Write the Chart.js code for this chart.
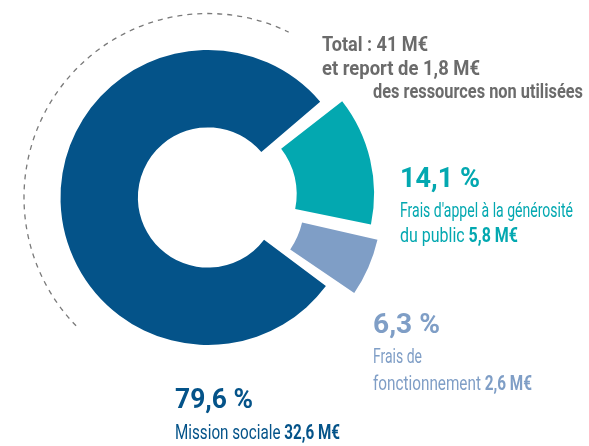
<!DOCTYPE html>
<html lang="fr">
<head>
<meta charset="utf-8">
<title>Emplois des ressources</title>
<script src="https://cdn.jsdelivr.net/npm/chart.js@4.4.0/dist/chart.umd.min.js"></script>
<style>
  html, body { margin: 0; padding: 0; background: #ffffff; }
  #zone { width: 589px; height: 446px; }
</style>
</head>
<body>
<div id="zone"><canvas id="grafico" width="589" height="446"></canvas></div>
<script>
// donnees
const categories = ["Frais d'appel à la générosité du public", "Frais de fonctionnement", "Mission sociale"];
const pourcentages = [14.1, 6.3, 79.6];
const montants = [5.8, 2.6, 32.6];
const total = 41;
const report = 1.8;

const couleurs = ["#03a8b0", "#7f9ec6", "#045389"];
const gris = "#6b6b6b";

function fr(v) {
  return String(v).replace(".", ",");
}

// lignes de texte : runs [texte, gras], position, largeur visee, taille, couleur
const textes = [
  { runs: [["Total : " + total + " M€", true]], x: 322, y: 51, w: 106, size: 21, color: gris },
  { runs: [["et report de " + fr(report) + " M€", true]], x: 322, y: 75, w: 158, size: 21, color: gris },
  { runs: [["des ressources non utilisées", true]], x: 373, y: 98, w: 210, size: 21, color: gris },

  { runs: [[fr(pourcentages[0]) + " %", true]], x: 400, y: 187, w: 80, size: 27, color: couleurs[0] },
  { runs: [["Frais d'appel à la générosité", false]], x: 400, y: 217, w: 173, size: 20, color: couleurs[0] },
  { runs: [["du public ", false], [fr(montants[0]) + " M€", true]], x: 400, y: 242, w: 118, size: 20, color: couleurs[0] },

  { runs: [[fr(pourcentages[1]) + " %", true]], x: 373, y: 333, w: 67, size: 27, color: couleurs[1] },
  { runs: [["Frais de", false]], x: 373, y: 363, w: 49, size: 20, color: couleurs[1] },
  { runs: [["fonctionnement ", false], [fr(montants[1]) + " M€", true]], x: 373, y: 390, w: 159, size: 20, color: couleurs[1] },

  { runs: [[fr(pourcentages[2]) + " %", true]], x: 175, y: 408, w: 78, size: 27, color: couleurs[2] },
  { runs: [["Mission sociale ", false], [fr(montants[2]) + " M€", true]], x: 175, y: 439, w: 165, size: 20, color: couleurs[2] }
];

function police(size, gras) {
  return (gras ? "bold " : "") + size + "px Roboto, 'Liberation Sans', sans-serif";
}

const decor = {
  id: "decor",
  afterDraw(chart) {
    const ctx = chart.ctx;
    const arc = chart.getDatasetMeta(0).data[2];
    const cx = arc.x;
    const cy = arc.y;
    const r = arc.outerRadius + 38;

    // arc pointille
    ctx.save();
    ctx.strokeStyle = "#7a7a7a";
    ctx.lineWidth = 1.3;
    ctx.setLineDash([5, 5]);
    ctx.beginPath();
    ctx.arc(cx, cy, r, 135.8 * Math.PI / 180, 296 * Math.PI / 180);
    ctx.stroke();
    ctx.restore();

    // textes
    textes.forEach((ligne) => {
      ctx.save();
      let largeur = 0;
      ligne.runs.forEach((run) => {
        ctx.font = police(ligne.size, run[1]);
        largeur += ctx.measureText(run[0]).width;
      });
      const sx = ligne.w / largeur;
      ctx.translate(ligne.x, ligne.y);
      ctx.scale(sx, 1);
      ctx.fillStyle = ligne.color;
      ctx.textBaseline = "alphabetic";
      let x = 0;
      ligne.runs.forEach((run) => {
        ctx.font = police(ligne.size, run[1]);
        ctx.fillText(run[0], x, 0);
        x += ctx.measureText(run[0]).width;
      });
      ctx.restore();
    });
  }
};

new Chart(document.getElementById("grafico"), {
  type: "doughnut",
  data: {
    labels: categories,
    datasets: [
      {
        data: pourcentages,
        backgroundColor: couleurs,
        borderWidth: 0,
        offset: [62, 68, 0],
        spacing: 3
      }
    ]
  },
  options: {
    responsive: false,
    animation: false,
    rotation: 51.5,
    radius: 146,
    cutout: "47%",
    layout: {
      padding: { left: 0, top: 0, right: 173, bottom: 51 }
    },
    plugins: {
      legend: { display: false },
      tooltip: { enabled: false }
    }
  },
  plugins: [decor]
});
</script>
</body>
</html>
